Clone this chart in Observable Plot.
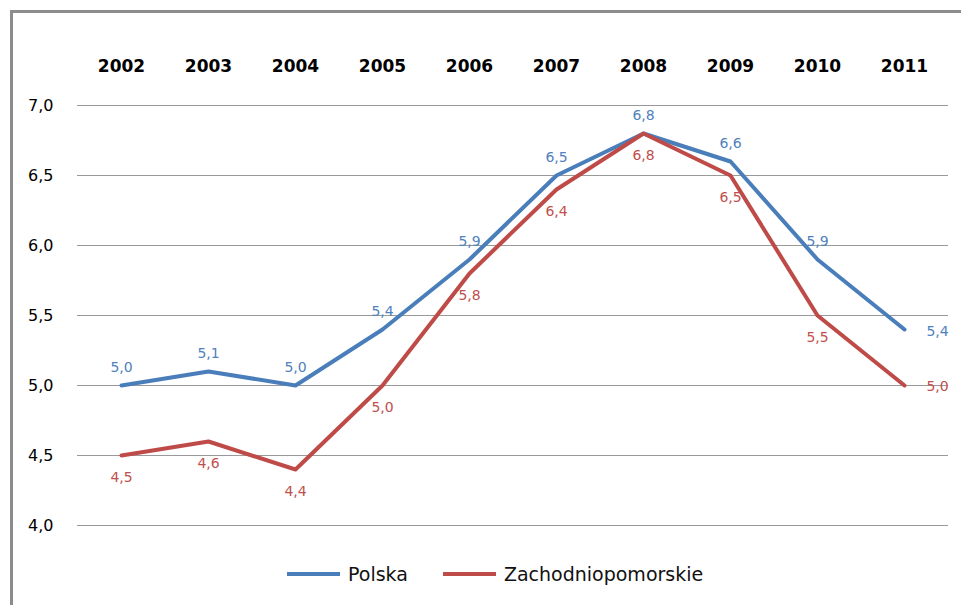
<!DOCTYPE html>
<html>
<head>
<meta charset="utf-8">
<script src="https://cdn.jsdelivr.net/npm/d3@7"></script>
<script src="https://cdn.jsdelivr.net/npm/@observablehq/plot@0.6"></script>
<style>
  html, body { margin: 0; padding: 0; background: #fff; }
  body { width: 961px; height: 605px; position: relative; overflow: hidden; font-family: "DejaVu Sans", sans-serif; }
  #frame { position: absolute; left: 10px; top: 10px; width: 960px; height: 600px; border-top: 3px solid #8c8c8c; border-left: 3px solid #8c8c8c; }
  #chart { position: absolute; left: 0; top: 0; }
  #legend { position: absolute; top: 563px; left: 287px; display: flex; align-items: center; font-size: 19px; color: #111; }
  .item { display: flex; align-items: center; margin-right: 35px; }
  .sw { width: 53px; height: 4px; margin-right: 8px; }
</style>
</head>
<body>
<div id="frame"></div>
<div id="chart"></div>
<div id="legend"></div>
<script>
const years = ["2002","2003","2004","2005","2006","2007","2008","2009","2010","2011"];
const seriesNames = ["Polska", "Zachodniopomorskie"];
const polska = [5.0, 5.1, 5.0, 5.4, 5.9, 6.5, 6.8, 6.6, 5.9, 5.4];
const zachodniopomorskie = [4.5, 4.6, 4.4, 5.0, 5.8, 6.4, 6.8, 6.5, 5.5, 5.0];
const yTicks = [4.0, 4.5, 5.0, 5.5, 6.0, 6.5, 7.0];
const lineColors = ["#4A7EBB", "#BE4B48"];
const labelColors = ["#4F81BD", "#C0504D"];

const fmt = d => d.toFixed(1).replace(".", ",");
const rows = [];
[polska, zachodniopomorskie].forEach((vals, s) => {
  vals.forEach((v, i) => rows.push({series: seriesNames[s], year: years[i], value: v, last: i === years.length - 1}));
});
const P = rows.filter(d => d.series === "Polska");
const Z = rows.filter(d => d.series === "Zachodniopomorskie");

const chart = Plot.plot({
  width: 961,
  height: 545,
  marginTop: 105,
  marginBottom: 20,
  marginLeft: 77,
  marginRight: 13,
  style: {fontFamily: "DejaVu Sans, sans-serif", background: "transparent"},
  x: {type: "point", domain: years, padding: 0.5},
  y: {domain: [4, 7]},
  marks: [
    Plot.ruleY(yTicks, {stroke: "#999999", strokeWidth: 1, strokeOpacity: 1}),
    Plot.axisX({anchor: "top", tickSize: 0, tickPadding: 34, fontSize: 17, fontWeight: "bold", fill: "#000", label: null}),
    Plot.axisY({ticks: yTicks, tickSize: 0, tickPadding: 24, fontSize: 16, fill: "#000", tickFormat: fmt, label: null}),
    Plot.line(P, {x: "year", y: "value", stroke: lineColors[0], strokeWidth: 4}),
    Plot.line(Z, {x: "year", y: "value", stroke: lineColors[1], strokeWidth: 4}),
    Plot.text(P.filter(d => !d.last), {x: "year", y: "value", text: d => fmt(d.value), dy: -18, fill: labelColors[0], fontSize: 14}),
    Plot.text(P.filter(d => d.last), {x: "year", y: "value", text: d => fmt(d.value), dx: 33, dy: 2, fill: labelColors[0], fontSize: 14}),
    Plot.text(Z.filter(d => !d.last), {x: "year", y: "value", text: d => fmt(d.value), dy: 22, fill: labelColors[1], fontSize: 14}),
    Plot.text(Z.filter(d => d.last), {x: "year", y: "value", text: d => fmt(d.value), dx: 33, dy: 1, fill: labelColors[1], fontSize: 14})
  ]
});
document.getElementById("chart").appendChild(chart);

const legend = document.getElementById("legend");
seriesNames.forEach((name, i) => {
  const it = document.createElement("div");
  it.className = "item";
  const sw = document.createElement("div");
  sw.className = "sw";
  sw.style.background = lineColors[i];
  const lab = document.createElement("span");
  lab.textContent = name;
  it.appendChild(sw);
  it.appendChild(lab);
  legend.appendChild(it);
});
</script>
</body>
</html>
